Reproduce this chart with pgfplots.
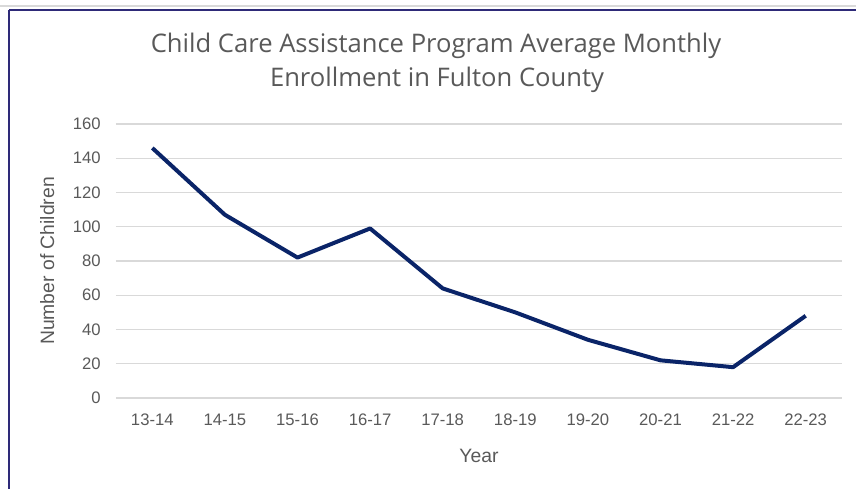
\documentclass[border=0pt]{standalone}
\usepackage{pgfplots}
\pgfplotsset{compat=1.18}
\usepackage{fontspec}
\setmainfont{Liberation Sans}
\newfontfamily\titlefont{Open Sans}
\definecolor{txtgray}{HTML}{595959}
\definecolor{gridgray}{HTML}{D9D9D9}
\definecolor{navyline}{HTML}{0A2468}
\definecolor{framecol}{HTML}{2E2A78}

\begin{document}
\begin{tikzpicture}[x=0.75pt,y=0.75pt]
  \begin{axis}[
      scale only axis,
      width=544.5pt, height=205.5pt,
      xmin=-0.5, xmax=9.5,
      ymin=0, ymax=160,
      xtick=data,
      xticklabels={13-14,14-15,15-16,16-17,17-18,18-19,19-20,20-21,21-22,22-23},
      ytick={0,20,...,160},
      ymajorgrids,
      grid style={gridgray, line width=1.1pt},
      axis line style={draw=none},
      major tick length=0pt,
      tick label style={font=\fontsize{12.5}{14}\selectfont, text=txtgray},
      /pgf/number format/assume math mode=true,
      xticklabel style={yshift=-8pt, text height=9pt, text depth=0pt},
      yticklabel style={xshift=-8pt},
      xlabel={Year},
      ylabel={Number of Children},
      label style={font=\fontsize{14.5}{16}\selectfont, text=txtgray},
      xlabel style={yshift=-11pt},
      ylabel style={yshift=7pt},
      clip=false,
    ]
    \coordinate (O) at (rel axis cs:0,0);
    \addplot[navyline, line width=3pt, line join=round, mark=none]
      coordinates {(0,146) (1,107) (2,82) (3,99) (4,64) (5,50) (6,34) (7,22) (8,18) (9,48)};
  \end{axis}

  % page and frame, in pixel units from the bottom left of the page
  \begin{scope}[shift={(O)}, shift={(-116,-91)}]
    \path[use as bounding box] (0,0) rectangle (856,489);
    \draw[gridgray, line width=1.2pt] (0,483) -- (856,483);
    \draw[framecol, line width=1.6pt] (9,479) -- (856,479);
    \draw[framecol, line width=1.6pt] (9,479) -- (9,0);
    \node[font=\titlefont\fontsize{19.2}{22}\selectfont, text=txtgray]
      at (436,443) {Child Care Assistance Program Average Monthly};
    \node[font=\titlefont\fontsize{19.2}{22}\selectfont, text=txtgray]
      at (437,409) {Enrollment in Fulton County};
  \end{scope}
\end{tikzpicture}
\end{document}
